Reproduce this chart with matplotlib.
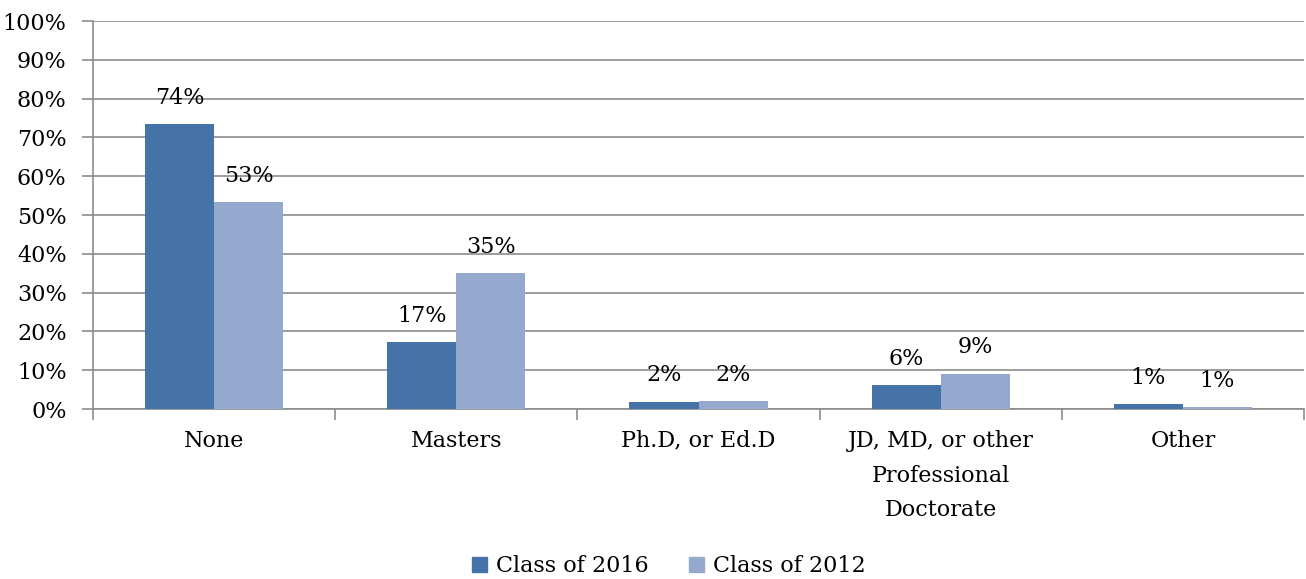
import numpy as np
import matplotlib
matplotlib.use("Agg")
import matplotlib.pyplot as plt
from matplotlib.patches import Patch

plt.rcParams['font.family'] = ['DejaVu Serif']

categories = ["None", "Masters", "Ph.D, or Ed.D",
              "JD, MD, or other\nProfessional\nDoctorate", "Other"]
class_2016 = [73.5, 17.3, 1.9, 6.2, 1.3]
class_2012 = [53.4, 35.0, 2.1, 9.1, 0.5]
series_names = ["Class of 2016", "Class of 2012"]
yticks = [0, 10, 20, 30, 40, 50, 60, 70, 80, 90, 100]

c_dark = "#4673A7"
c_light = "#95A9CF"
grid_c = "#8C8C8C"
fs = 16

fig = plt.figure(figsize=(13.06, 5.79), dpi=100)
ax = fig.add_axes([0.0712, 0.2936, 0.9273, 0.6701])

x = np.arange(len(categories))
w = 0.285
b1 = ax.bar(x - w / 2, class_2016, w, color=c_dark, zorder=3)
b2 = ax.bar(x + w / 2, class_2012, w, color=c_light, zorder=3)

for bars, vals in ((b1, class_2016), (b2, class_2012)):
    for rect, v in zip(bars, vals):
        # excel style rounding, 0.5 goes up
        ax.annotate("%d%%" % int(v + 0.5),
                    (rect.get_x() + rect.get_width() / 2, rect.get_height()),
                    xytext=(0, 11), textcoords="offset points",
                    ha="center", va="bottom", fontsize=fs, zorder=4)

ax.set_xlim(-0.5, len(categories) - 0.5)
ax.set_ylim(0, 100)
ax.set_yticks(yticks)
ax.set_yticklabels(["%d%%" % t for t in yticks], fontsize=fs)
ax.yaxis.grid(True, color=grid_c, linewidth=1.2, zorder=0)

# category boundary ticks
ax.set_xticks(np.arange(len(categories) + 1) - 0.5)
ax.set_xticklabels([])
ax.set_xticks(x, minor=True)
ax.set_xticklabels(categories, minor=True, fontsize=fs, linespacing=1.75)
ax.tick_params(axis="x", which="minor", length=0, pad=15)
ax.tick_params(axis="x", which="major", length=8, color=grid_c, width=1.2)
ax.tick_params(axis="y", length=8, color=grid_c, width=1.2, pad=11)

for s in ("top", "right"):
    ax.spines[s].set_visible(False)
ax.spines["left"].set_color(grid_c)
ax.spines["left"].set_linewidth(1.2)
ax.spines["bottom"].set_color(grid_c)
ax.spines["bottom"].set_linewidth(1.2)

handles = [Patch(color=c_dark), Patch(color=c_light)]
fig.legend(handles, series_names, loc="center", bbox_to_anchor=(0.512, 0.022),
           ncol=2, frameon=False, fontsize=fs, handlelength=0.7,
           handleheight=0.7, handletextpad=0.4, columnspacing=1.8)

fig.savefig("out.png", dpi=100)
